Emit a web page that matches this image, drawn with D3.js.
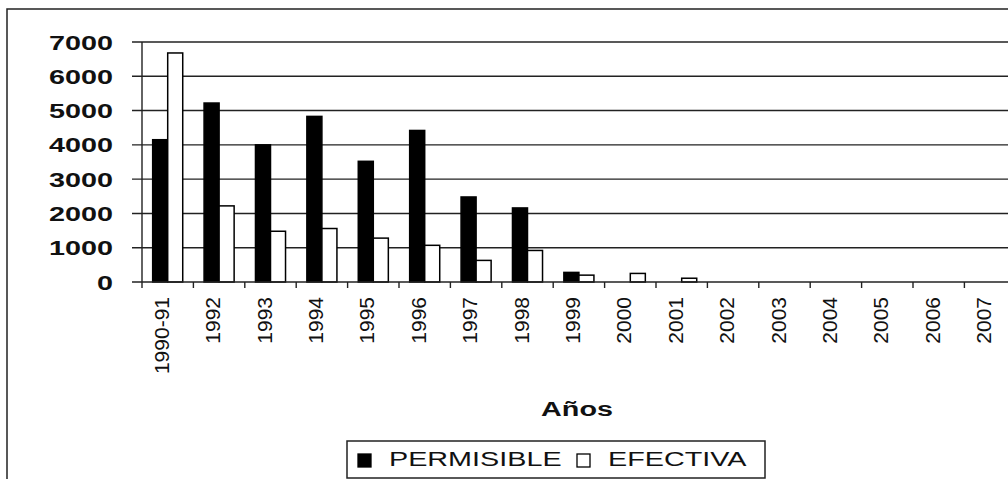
<!DOCTYPE html>
<html>
<head>
<meta charset="utf-8">
<script src="https://cdn.jsdelivr.net/npm/d3@7"></script>
<style>
  html, body { margin: 0; padding: 0; background: #fff; overflow: hidden; }
  text { font-family: "Liberation Sans", Arial, sans-serif; fill: #111; }
</style>
</head>
<body>
<div id="vis"></div>
<script>
// data
var years = ["1990-91","1992","1993","1994","1995","1996","1997","1998","1999",
             "2000","2001","2002","2003","2004","2005","2006","2007"];
var permisible = [4150,5220,4000,4830,3520,4420,2480,2160,280,0,0,0,0,0,0,0,0];
var efectiva   = [6680,2220,1480,1560,1280,1070,630,920,200,250,110,0,0,0,0,0,0];
var series = ["PERMISIBLE","EFECTIVA"];
var yTicks = [0,1000,2000,3000,4000,5000,6000,7000];

var w = 1008, h = 479;
var plotLeft = 142, plotTop = 42, plotBottom = 282;
var step = 51.4;
var stretch = 1.37;   // text in the scan is drawn wide

var rows = years.map((d, i) => ({year: d, PERMISIBLE: permisible[i], EFECTIVA: efectiva[i]}));

let svg = d3.select("#vis")
            .append("svg")
            .attr("width", w)
            .attr("height", h);

// outer frame
svg.append("path")
   .attr("d", `M7,${h} L7,9 L${w},9`)
   .attr("fill", "none")
   .attr("stroke", "#222")
   .attr("stroke-width", 1.5);

var x0 = d3.scaleBand()
           .domain(years)
           .range([plotLeft, plotLeft + step * years.length])
           .padding(0);

var x1 = d3.scaleBand()
           .domain(series)
           .range([0, x0.bandwidth()])
           .paddingInner(0)
           .paddingOuter(0.71);

var y = d3.scaleLinear()
          .domain([0, 7000])
          .range([plotBottom, plotTop]);

// gridlines + y ticks
svg.append("g")
   .selectAll("line")
   .data(yTicks.filter(d => d > 0))
   .enter()
   .append("line")
   .attr("x1", plotLeft - 10)
   .attr("x2", w)
   .attr("y1", d => y(d))
   .attr("y2", d => y(d))
   .attr("stroke", "#222")
   .attr("stroke-width", 1.4);

// y labels
svg.append("g")
   .selectAll("text")
   .data(yTicks)
   .enter()
   .append("text")
   .attr("transform", d => `translate(113,${y(d)}) scale(${stretch},1)`)
   .attr("text-anchor", "end")
   .attr("dy", "0.36em")
   .attr("font-size", 21)
   .attr("font-weight", "bold")
   .text(d => d);

// bars
var colors = d3.scaleOrdinal().domain(series).range(["#000", "#fff"]);

var groups = svg.append("g")
   .selectAll("g")
   .data(rows)
   .enter()
   .append("g")
   .attr("transform", d => `translate(${x0(d.year)},0)`);

groups.selectAll("rect")
   .data(d => series.map(s => ({key: s, value: d[s]})).filter(e => e.value > 0))
   .enter()
   .append("rect")
   .attr("x", d => x1(d.key))
   .attr("y", d => y(d.value))
   .attr("width", x1.bandwidth())
   .attr("height", d => y(0) - y(d.value))
   .attr("fill", d => colors(d.key))
   .attr("stroke", "#000")
   .attr("stroke-width", 1.5);

// y axis line
svg.append("line")
   .attr("x1", plotLeft).attr("x2", plotLeft)
   .attr("y1", plotTop).attr("y2", plotBottom)
   .attr("stroke", "#222")
   .attr("stroke-width", 1.4);

// x axis with ticks between categories
var xAxis = svg.append("g")
   .attr("transform", `translate(0,${plotBottom})`);

xAxis.append("line")
   .attr("x1", plotLeft - 10).attr("x2", w)
   .attr("stroke", "#222")
   .attr("stroke-width", 1.6);

xAxis.selectAll("line.tick")
   .data(years)
   .enter()
   .append("line")
   .attr("class", "tick")
   .attr("x1", d => x0(d)).attr("x2", d => x0(d))
   .attr("y1", 0).attr("y2", 6)
   .attr("stroke", "#222")
   .attr("stroke-width", 1.4);

xAxis.selectAll("text")
   .data(years)
   .enter()
   .append("text")
   .attr("transform", d => `translate(${x0(d) + x0.bandwidth() / 2 + 1},15) rotate(-90)`)
   .attr("text-anchor", "end")
   .attr("font-size", 21)
   .text(d => d);

// axis title
svg.append("text")
   .attr("transform", `translate(577,416) scale(${stretch},1)`)
   .attr("text-anchor", "middle")
   .attr("font-size", 21)
   .attr("font-weight", "bold")
   .text("Años");

// legend
var legend = svg.append("g");
legend.append("rect")
   .attr("x", 347).attr("y", 441)
   .attr("width", 418).attr("height", 37)
   .attr("fill", "#fff")
   .attr("stroke", "#222")
   .attr("stroke-width", 1.5);

var legendX = [358, 577];
series.forEach((s, i) => {
  legend.append("rect")
     .attr("x", legendX[i]).attr("y", 454)
     .attr("width", 13).attr("height", 13)
     .attr("fill", colors(s))
     .attr("stroke", "#000")
     .attr("stroke-width", 1.3);
  legend.append("text")
     .attr("transform", `translate(${legendX[i] + 31},466) scale(${stretch},1)`)
     .attr("font-size", 21)
     .text(s);
});
</script>
</body>
</html>
